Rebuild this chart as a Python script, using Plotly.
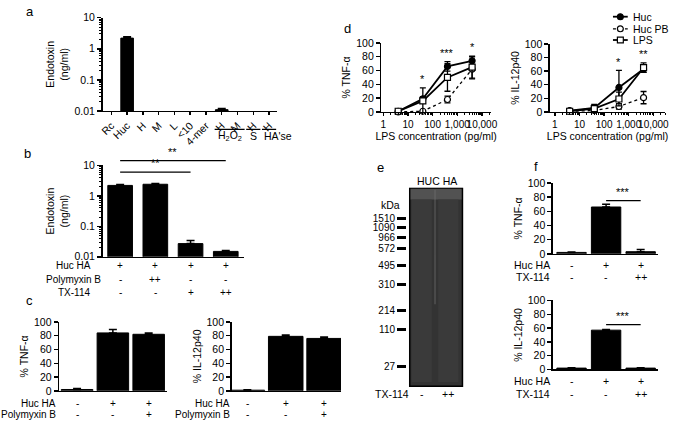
import math
import plotly.graph_objects as go

W, H = 685, 427
FONT = "Arial, Liberation Sans, sans-serif"

# ---------------- data ----------------
# panel a
a_labels = ["Rc", "Huc", "H", "M", "L", "<10", "4-mer", "H", "M", "H", "H"]
a_values = [None, 2.2, None, None, None, None, None, 0.011, None, None, None]
a_err = [0, 0.25, 0, 0, 0, 0, 0, 0.001, 0, 0, 0]
a_groups = [("H<sub>2</sub>O<sub>2</sub>", 7, 8), ("S", 9, 9), ("HA'se", 10, 10)]

# panel b
b_values = [2.2, 2.4, 0.027, 0.015]
b_err = [0.15, 0.15, 0.007, 0.001]
b_rows = {"Huc HA": ["+", "+", "+", "+"],
          "Polymyxin B": ["-", "++", "-", "-"],
          "TX-114": ["-", "-", "+", "++"]}
b_sig = [(0, 3, "**"), (0, 2, "**")]

# panel c
c_tnf = [2, 84, 82]
c_tnf_err = [1.5, 5, 2]
c_il = [1, 79, 76]
c_il_err = [0.5, 2, 2]
c_rows = {"Huc HA": ["-", "+", "+"], "Polymyxin B": ["-", "-", "+"]}

# panel d
d_conc = [4, 40, 400, 4000]
d_series = ["Huc", "Huc PB", "LPS"]
d_tnf = {"Huc": [1, 19, 66, 74], "Huc PB": [0, 1, 18, 62], "LPS": [1, 16, 50, 65]}
d_tnf_err = {"Huc": [1, 3, 7, 6], "Huc PB": [0.5, 1, 5, 14], "LPS": [1, 19, 20, 16]}
d_tnf_sig = ["", "*", "***", "*"]
d_il = {"Huc": [2, 6, 36, 63], "Huc PB": [1, 2, 8, 21], "LPS": [1, 5, 19, 65]}
d_il_err = {"Huc": [1, 4, 25, 5], "Huc PB": [0.5, 1, 4, 9], "LPS": [1, 6, 10, 7]}
d_il_sig = ["", "", "*", "**"]
d_ticks = [1, 10, 100, 1000, 10000]
d_ticktext = ["1", "10", "100", "1,000", "10,000"]

# panel e (gel)
gel_markers = ["1510", "1090", "966", "572", "495", "310", "214", "110", "27"]
gel_pos = [32, 41, 51, 62, 80, 100, 126, 146, 184]
gel_lanes = ["-", "++"]

# panel f
f_tnf = [2, 66, 3]
f_tnf_err = [0.5, 4, 3]
f_il = [2, 57, 2]
f_il_err = [0.5, 1, 0.5]
f_rows = {"Huc HA": ["-", "+", "+"], "TX-114": ["-", "-", "++"]}

# ---------------- helpers ----------------
def dx(x0, x1):
    return [x0 / W, x1 / W]

def dy(top, bot):
    return [1 - bot / H, 1 - top / H]

def px(x):
    return x / W

def py(y):
    return 1 - y / H

fig = go.Figure()
ann = []
shapes = []
STAR_FONT = "Liberation Sans"

def txt(x, y, text, xref="paper", yref="paper", xanchor="center", yanchor="middle", size=10.5, family=FONT):
    ann.append(dict(x=x, y=y, xref=xref, yref=yref, text=text, xanchor=xanchor, yanchor=yanchor,
                    showarrow=False, font=dict(size=size, color="#000000", family=family)))

def add_bar(xa, ya, vals, errs, width):
    fig.add_trace(go.Bar(
        x=list(range(len(vals))), y=vals, width=width,
        marker=dict(color="black", line=dict(color="black", width=1)),
        error_y=dict(type="data", array=errs, arrayminus=[0] * len(errs), symmetric=False,
                     thickness=1.5, width=4, color="black"),
        xaxis=xa, yaxis=ya, showlegend=False, hoverinfo="skip"))

def add_rows(xref, rows, ys, title_x, anchor, size=10.5):
    for (name, vals), y in zip(rows.items(), ys):
        txt(px(title_x), py(y), name, xanchor=anchor, size=size)
        for i, v in enumerate(vals):
            txt(i, py(y), v, xref=xref, size=size)

base = dict(showline=True, linecolor="black", linewidth=1.5, showgrid=False, zeroline=False,
            ticks="outside", ticklen=4, tickwidth=1.5, tickcolor="black",
            tickfont=dict(size=10.5, color="black", family=FONT), fixedrange=True,
            title_font=dict(size=10.5, color="black", family=FONT))

log_minor = dict(ticks="outside", ticklen=2, tickwidth=1, tickcolor="black",
                 tickvals=[m * 10 ** e for e in (-2, -1, 0) for m in range(2, 10)])
log_y = dict(type="log", range=[-2, 1], tickvals=[0.01, 0.1, 1, 10],
             ticktext=["0.01", "0.1", "1", "10"], minor=log_minor)

lay = {}

# ---- a ----
add_bar("x", "y", a_values, a_err, 0.8)
lay["xaxis"] = dict(base, domain=dx(101, 278), range=[-0.56, 10.5], anchor="y",
                    tickvals=list(range(len(a_labels))), ticktext=a_labels, tickangle=-45, ticklen=3)
lay["yaxis"] = dict(base, **log_y, domain=dy(12, 108), anchor="x",
                    title=dict(text="Endotoxin<br>(ng/ml)", standoff=4))
for name, i0, i1 in a_groups:
    shapes.append(dict(type="line", xref="x", yref="paper", x0=i0 - 0.45, x1=i1 + 0.45,
                       y0=py(127), y1=py(127), line=dict(color="black", width=1.3)))
    if name == "HA'se":
        txt(i0 - 0.45, py(134), name, xref="x", xanchor="left")
    else:
        txt((i0 + i1) / 2, py(134), name, xref="x")

# ---- b ----
add_bar("x2", "y2", b_values, b_err, 0.7)
lay["xaxis2"] = dict(base, domain=dx(101, 245), range=[-0.5, 3.53], anchor="y2",
                     ticks="", showticklabels=False)
lay["yaxis2"] = dict(base, **log_y, domain=dy(164, 258), anchor="x2",
                     title=dict(text="Endotoxin<br>(ng/ml)", standoff=4))
add_rows("x2", b_rows, [267, 281, 295], 72, "center", size=10)
for (i0, i1, s), yline in zip(b_sig, [159, 171]):
    shapes.append(dict(type="line", xref="x2", yref="paper", x0=i0, x1=i1, y0=py(yline), y1=py(yline),
                       line=dict(color="black", width=1.3)))
    txt((i0 + i1) / 2, py(yline - 1), s, xref="x2", yanchor="bottom", size=11, family=STAR_FONT)

# ---- c ----
pct_axis = dict(range=[0, 100], tickvals=[0, 20, 40, 60, 80, 100])
add_bar("x3", "y3", c_tnf, c_tnf_err, 0.88)
lay["xaxis3"] = dict(base, domain=dx(57, 166), range=[-0.5, 2.5], anchor="y3", ticks="", showticklabels=False)
lay["yaxis3"] = dict(base, **pct_axis, domain=dy(325, 396), anchor="x3",
                     title=dict(text="% TNF-α", standoff=3))
add_rows("x3", c_rows, [409, 420], 56, "right", size=10)
add_bar("x4", "y4", c_il, c_il_err, 0.9)
lay["xaxis4"] = dict(base, domain=dx(232, 343), range=[-0.41, 2.44], anchor="y4", ticks="", showticklabels=False)
lay["yaxis4"] = dict(base, **pct_axis, domain=dy(325, 396), anchor="x4",
                     title=dict(text="% IL-12p40", standoff=3))
add_rows("x4", c_rows, [409, 420], 232, "right", size=10)

# ---- d ----
styles = {
    "Huc": dict(line=dict(color="black", width=1.8, dash="solid"),
                marker=dict(symbol="circle", size=6, color="black", line=dict(color="black", width=1.2))),
    "Huc PB": dict(line=dict(color="black", width=1.3, dash="dot"),
                   marker=dict(symbol="circle", size=6, color="white", line=dict(color="black", width=1.2))),
    "LPS": dict(line=dict(color="black", width=1.8, dash="solid"),
                marker=dict(symbol="square", size=6, color="white", line=dict(color="black", width=1.2))),
}
for xa, ya, vals, errs in [("x5", "y5", d_tnf, d_tnf_err), ("x6", "y6", d_il, d_il_err)]:
    for s in d_series:
        fig.add_trace(go.Scatter(
            x=d_conc, y=vals[s], mode="lines+markers", name=s, showlegend=False,
            error_y=dict(type="data", array=errs[s], thickness=1.3, width=3, color="black"),
            xaxis=xa, yaxis=ya, cliponaxis=False, hoverinfo="skip", **styles[s]))
minor_log_x = dict(ticks="outside", ticklen=2, tickwidth=1, tickcolor="black",
                   tickvals=[m * 10 ** e for e in range(0, 5) for m in range(2, 10)])
dx_common = dict(type="log", tickvals=d_ticks, ticktext=d_ticktext, minor=minor_log_x, tickangle=0,
                 ticklen=3, tickfont=dict(size=10, color="black", family=FONT),
                 title=dict(text="LPS concentration (pg/ml)", standoff=0,
                            font=dict(size=10.5, color="black", family=FONT)))
lay["xaxis5"] = dict(base, **dx_common, domain=dx(384, 495), range=[-0.08, 4.36], anchor="y5")
lay["yaxis5"] = dict(base, **pct_axis, domain=dy(38, 109), anchor="x5",
                     title=dict(text="% TNF-α", standoff=3))
lay["xaxis6"] = dict(base, **dx_common, domain=dx(555, 672), range=[-0.2, 4.48], anchor="y6")
lay["yaxis6"] = dict(base, **pct_axis, domain=dy(39, 109), anchor="x6",
                     title=dict(text="% IL-12p40", standoff=3))
for xa, ya, vals, errs, sig in [("x5", "y5", d_tnf, d_tnf_err, d_tnf_sig), ("x6", "y6", d_il, d_il_err, d_il_sig)]:
    for i, s in enumerate(sig):
        if s:
            top = max(vals[k][i] + errs[k][i] for k in d_series)
            txt(math.log10(d_conc[i]), top + 1, s, xref=xa, yref=ya, yanchor="bottom", size=11,
                family=STAR_FONT)

# compact legend for panel d
leg_y = [11, 23.5, 35]
for s, y in zip(d_series, leg_y):
    st = styles[s]
    shapes.append(dict(type="line", xref="paper", yref="paper", x0=px(619), x1=px(634), y0=py(y), y1=py(y),
                       line=dict(color="black", width=st["line"]["width"], dash=st["line"]["dash"])))
    shp = "rect" if st["marker"]["symbol"] == "square" else "circle"
    shapes.append(dict(type=shp, xref="paper", yref="paper", x0=px(623.5), x1=px(629.5),
                       y0=py(y + 3), y1=py(y - 3), fillcolor=st["marker"]["color"],
                       line=dict(color="black", width=1.2)))
    txt(px(637), py(y), s, xanchor="left", size=10.5)

# ---- e (gel) ----
fig.add_trace(go.Scatter(x=[0, 1], y=[None, None], xaxis="x9", yaxis="y9", showlegend=False,
                         hoverinfo="skip", mode="markers"))
lay["xaxis9"] = dict(domain=dx(412, 467), range=[-0.48, 1.56], anchor="y9", visible=False, fixedrange=True)
lay["yaxis9"] = dict(base, domain=dy(187, 392), range=[205, 0], anchor="free", position=px(409),
                     showline=False, tickvals=gel_pos, ticktext=gel_markers, ticklen=9, tickwidth=3,
                     tickfont=dict(size=10, color="black", family=FONT))
shapes.append(dict(type="rect", xref="x9", yref="y9", x0=-0.48, x1=1.56, y0=0, y1=205,
                   fillcolor="#333333", line=dict(color="black", width=3), layer="below"))
shapes.append(dict(type="rect", xref="x9", yref="y9", x0=-0.42, x1=1.5, y0=1, y1=12,
                   fillcolor="#5a5a5a", line=dict(width=0), opacity=0.8))
for lane in range(len(gel_lanes)):
    shapes.append(dict(type="rect", xref="x9", yref="y9", x0=lane - 0.38, x1=lane + 0.38, y0=12, y1=200,
                       fillcolor="#3c3c3c", line=dict(width=0), opacity=0.8))
shapes.append(dict(type="line", xref="x9", yref="y9", x0=0.5, x1=0.5, y0=2, y1=120,
                   line=dict(color="#707070", width=1.5), opacity=0.5))
txt(px(440), py(180), "HUC HA", size=10.5)
txt(px(393), py(205), "kDa", size=10.5)
add_rows("x9", {"TX-114": gel_lanes}, [399], 395, "center", size=10.5)

# ---- f ----
add_bar("x7", "y7", f_tnf, f_tnf_err, 0.85)
lay["xaxis7"] = dict(base, domain=dx(558, 665), range=[-0.54, 2.51], anchor="y7", ticks="", showticklabels=False)
lay["yaxis7"] = dict(base, **pct_axis, domain=dy(182, 255), anchor="x7",
                     title=dict(text="% TNF-α", standoff=3))
add_rows("x7", f_rows, [267, 279], 557, "right")
add_bar("x8", "y8", f_il, f_il_err, 0.85)
lay["xaxis8"] = dict(base, domain=dx(558, 665), range=[-0.54, 2.51], anchor="y8", ticks="", showticklabels=False)
lay["yaxis8"] = dict(base, **pct_axis, domain=dy(303, 374), anchor="x8",
                     title=dict(text="% IL-12p40", standoff=3))
add_rows("x8", f_rows, [386, 399], 557, "right")
for xa, ya, yv in [("x7", "y7", 75), ("x8", "y8", 65)]:
    shapes.append(dict(type="line", xref=xa, yref=ya, x0=1, x1=2, y0=yv, y1=yv,
                       line=dict(color="black", width=1.3)))
    txt(1.5, yv + 1, "***", xref=xa, yref=ya, yanchor="bottom", size=11, family=STAR_FONT)

# ---- panel letters ----
for letter, x, y in [("a", 27, 6), ("b", 25, 152), ("c", 27, 303), ("d", 350, 23), ("e", 383, 166), ("f", 541, 165)]:
    txt(px(x), py(y), letter, size=13)

fig.update_layout(
    width=W, height=H, margin=dict(l=0, r=0, t=0, b=0),
    paper_bgcolor="white", plot_bgcolor="white",
    font=dict(family=FONT, size=10.5, color="black"),
    showlegend=False, hovermode=False,
    annotations=ann, shapes=shapes, bargap=0, **lay)

fig.write_html("out.html", config={"displayModeBar": False, "staticPlot": True},
               post_script="document.body.style.margin='0';document.body.style.padding='0';")
